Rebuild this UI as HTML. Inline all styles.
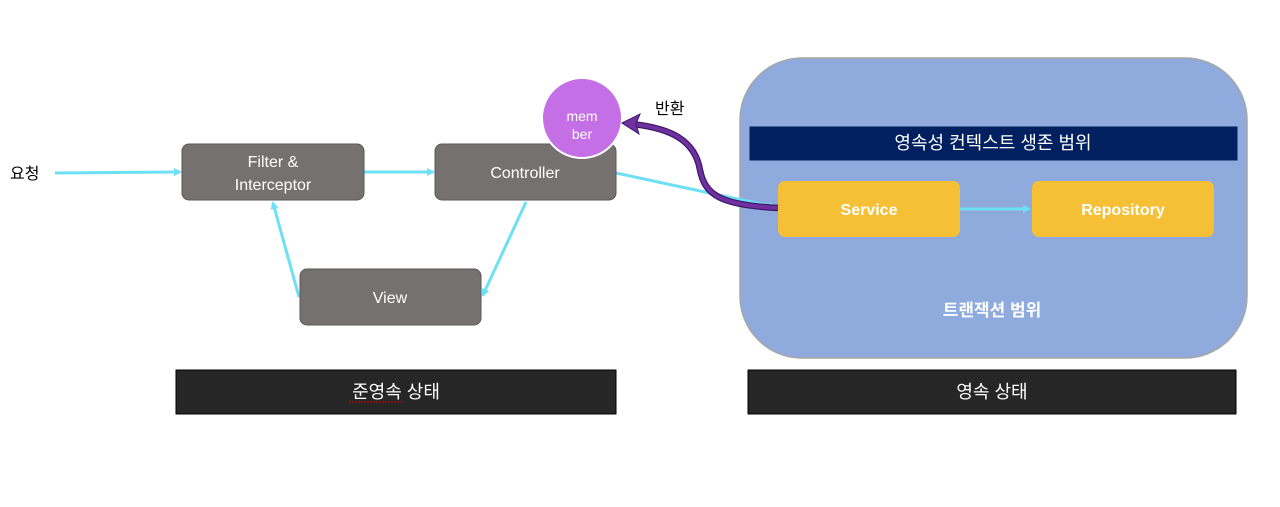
<!DOCTYPE html>
<html><head><meta charset="utf-8"><style>
html,body{margin:0;padding:0;background:#fff;}
svg{display:block}
text{font-family:"Liberation Sans","Noto Sans CJK KR",sans-serif;}
</style></head><body>
<svg width="1280" height="507" viewBox="0 0 1280 507" xmlns="http://www.w3.org/2000/svg">
<defs>
<marker id="ca" markerWidth="8" markerHeight="8" refX="6" refY="4" orient="auto" markerUnits="userSpaceOnUse"><path d="M0,0 L8,4 L0,8 z" fill="#6de0f5"/></marker>
</defs>
<rect x="740" y="58" width="507" height="300" rx="62" fill="#8faadc" stroke="#a6a6a6" stroke-width="1.5"/>
<rect x="749" y="126" width="489" height="35" fill="#002060" stroke="#8faadc"/>
<text x="993" y="149" fill="#fff" font-size="18" text-anchor="middle">영속성 컨텍스트 생존 범위</text>
<text x="992" y="316" fill="#fff" font-size="17" font-weight="bold" text-anchor="middle">트랜잭션 범위</text>

<text x="10" y="179" font-size="16" fill="#000">요청</text>
<g stroke="#6de0f5" stroke-width="3" fill="none" marker-end="url(#ca)">
<line x1="55" y1="173" x2="180" y2="172"/>
<line x1="364" y1="172" x2="433" y2="172"/>
<line x1="526" y1="202" x2="483" y2="295"/>
<line x1="299" y1="297" x2="273" y2="203"/>
<line x1="616" y1="173" x2="775" y2="207"/>
<line x1="960" y1="209" x2="1029" y2="209"/>
</g>

<rect x="182" y="144" width="182" height="56" rx="7" fill="#767171" stroke="#5a5656"/>
<text x="273" y="167" fill="#fff" font-size="16" text-anchor="middle">Filter &amp;</text>
<text x="273" y="190" fill="#fff" font-size="16" text-anchor="middle">Interceptor</text>
<rect x="435" y="144" width="181" height="56" rx="7" fill="#767171" stroke="#5a5656"/>
<text x="525" y="178" fill="#fff" font-size="16" text-anchor="middle">Controller</text>
<rect x="300" y="269" width="181" height="56" rx="7" fill="#767171" stroke="#5a5656"/>
<text x="390" y="303" fill="#fff" font-size="16" text-anchor="middle">View</text>

<circle cx="582" cy="118" r="40" fill="#c56fe6" stroke="#fff" stroke-width="2"/>
<text x="582" y="121" fill="#fff" font-size="14" text-anchor="middle">mem</text>
<text x="582" y="139" fill="#fff" font-size="14" text-anchor="middle">ber</text>
<text x="655" y="114" font-size="16" fill="#000">반환</text>

<path d="M778,208 C720,205 705,195 700,170 C695,140 670,128 632,124" stroke="#3a1a6b" stroke-width="6.5" fill="none"/>
<path d="M778,208 C720,205 705,195 700,170 C695,140 670,128 632,124" stroke="#7030a0" stroke-width="4" fill="none"/>
<path d="M622,123 L640,114 L636,124 L639,134 z" fill="#7030a0" stroke="#3a1a6b" stroke-width="1"/>

<rect x="778" y="181" width="182" height="56" rx="7" fill="#f5c036"/>
<text x="869" y="215" fill="#fff" font-size="16" font-weight="bold" text-anchor="middle">Service</text>
<rect x="1032" y="181" width="182" height="56" rx="7" fill="#f5c036"/>
<text x="1123" y="215" fill="#fff" font-size="16" font-weight="bold" text-anchor="middle">Repository</text>

<rect x="176" y="370" width="440" height="44" fill="#262626" stroke="#000"/>
<text x="396" y="398" fill="#fff" font-size="18" text-anchor="middle">준영속 상태</text>
<line x1="349" y1="402" x2="403" y2="402" stroke="#c00" stroke-width="1" stroke-dasharray="2,1"/>
<rect x="748" y="370" width="488" height="44" fill="#262626" stroke="#000"/>
<text x="992" y="398" fill="#fff" font-size="18" text-anchor="middle">영속 상태</text>
</svg>
</body></html>
